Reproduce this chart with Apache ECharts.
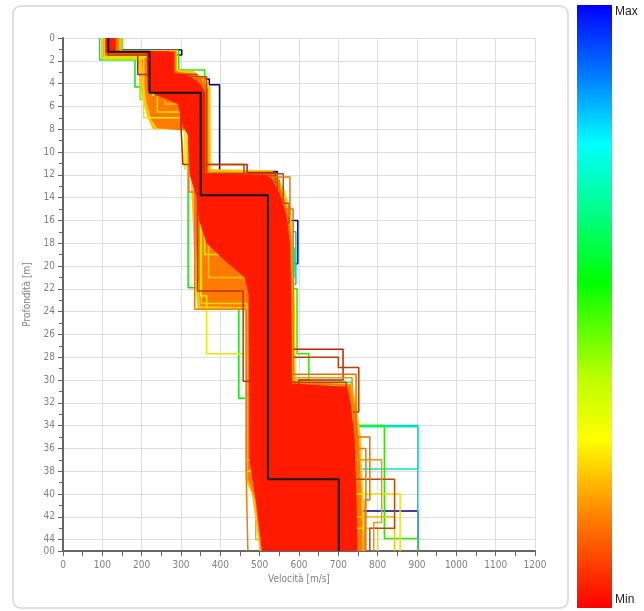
<!DOCTYPE html>
<html>
<head>
<meta charset="utf-8">
<script src="https://cdn.jsdelivr.net/npm/echarts@6/dist/echarts.min.js"></script>
<style>
  html, body { margin: 0; padding: 0; background: #fff; }
  #chart { width: 644px; height: 611px; }
</style>
</head>
<body>
<div id="chart"></div>
<script>
// Depth range and axis
const maxDepth = 45;

// Best model (black)
const bestVs = [115, 220, 350, 521, 701];
const bestBottom = [1.2, 4.8, 13.8, 38.7, 45];

// Single profiles that stand out of the cloud: Vs per layer [m/s], layer bottom [m], misfit (0 = Min, 1 = Max)
const profileVs = [
  [122, 302, 270, 372, 398, 545, 597, 578, 700, 902],
  [118, 275, 350, 545, 592, 560, 902],
  [125, 285, 355, 540, 588, 575, 735, 902, 750],
  [93, 183, 318, 447, 505, 600],
  [150, 294, 360, 540, 595, 625, 560, 817, 902],
  [100, 196, 300, 335, 470, 490, 560],
  [105, 205, 310, 350, 365, 466, 600],
  [115, 240, 330, 360, 480, 700, 857],
  [128, 260, 345, 370, 475, 720, 843],
  [110, 228, 315, 352, 467, 710, 800],
  [112, 190, 300, 305, 468, 540, 712, 600],
  [118, 250, 340, 460, 545, 700, 752, 640],
  [125, 270, 365, 560, 575, 560, 720, 843, 780],
  [108, 230, 320, 335, 466, 470],
  [120, 265, 350, 550, 585, 745, 780, 768],
  [116, 255, 345, 540, 583, 735, 810, 790],
  [114, 235, 330, 342, 458, 520, 700],
  [120, 262, 360, 577, 565, 700, 770]
];
const profileBottom = [
  [1.05, 1.5, 3.6, 4.1, 11.7, 16.0, 19.8, 30.4, 41.5, 45],
  [1.3, 4.0, 12.0, 17.0, 21.6, 34.0, 45],
  [1.2, 3.8, 11.9, 18.4, 21.0, 30.2, 34.1, 37.8, 45],
  [1.9, 4.3, 21.9, 31.6, 39.0, 45],
  [1.1, 2.8, 11.8, 22.0, 27.7, 30.0, 34.0, 43.9, 45],
  [1.9, 5.4, 7.8, 12.0, 39.0, 44.0, 45],
  [1.8, 7.0, 11.5, 22.6, 27.7, 38.0, 45],
  [1.6, 6.5, 12.5, 19.0, 30.5, 40.0, 45],
  [1.5, 5.8, 12.3, 21.0, 30.8, 42.0, 45],
  [1.7, 5.0, 11.0, 23.3, 37.0, 43.0, 45],
  [1.3, 3.2, 7.8, 11.1, 11.8, 27.3, 30.0, 45],
  [1.4, 3.2, 11.1, 12.1, 28.0, 28.9, 32.8, 45],
  [1.2, 3.4, 11.9, 14.5, 16.2, 30.2, 38.7, 43.0, 45],
  [1.5, 4.6, 13.5, 23.8, 38.7, 45],
  [1.3, 3.6, 12.5, 15.0, 29.5, 35.0, 40.5, 45],
  [1.4, 4.2, 12.8, 17.5, 29.8, 37.0, 42.5, 45],
  [1.5, 5.0, 12.5, 22.2, 30.1, 38.7, 45],
  [1.3, 3.5, 12.2, 15.6, 30.4, 36.0, 45]
];
const profileMisfit = [1.0, 0.8, 0.72, 0.55, 0.5, 0.42, 0.3, 0.27, 0.24, 0.26, 0.06, 0.1, 0.12, 0.16, 0.14, 0.19, 0.09, 0.15];

// Dense cloud of the low-misfit models, outlines as [Vs, depth]: outer, middle, core
const cloudOuter = [
  [97, 0], [97, 1.8], [190, 1.8], [195, 4], [203, 5.5], [215, 7], [228, 8], [322, 8], [324, 12], [327, 14],
  [332, 18], [338, 22], [342, 23.8], [462, 23.8], [464, 38.7], [480, 40], [500, 45],
  [768, 45], [763, 40], [757, 35], [746, 32], [735, 30.3], [592, 30], [590, 24], [586, 18], [579, 15.5],
  [565, 13.5], [545, 12], [530, 11.6], [376, 11.5], [375, 4.3], [360, 3.5], [332, 2.9], [291, 2.8],
  [291, 1.05], [148, 1.05], [148, 0]
];
const cloudMid = [
  [102, 0], [102, 1.6], [200, 1.6], [205, 4], [212, 5.5], [225, 7.2], [240, 7.9], [328, 8.2], [330, 12],
  [334, 14], [338, 18], [345, 22], [350, 23.5], [468, 23.6], [470, 38.7], [488, 40.5], [503, 45],
  [762, 45], [758, 40], [752, 35], [741, 32], [730, 30.4], [588, 30.1], [586, 24], [582, 18], [574, 15.5],
  [558, 13.5], [538, 12.1], [525, 11.8], [370, 11.7], [369, 4.5], [354, 3.7], [325, 3.1], [288, 2.95],
  [288, 1.12], [142, 1.12], [142, 0]
];
const cloudCore = [
  [108, 0], [108, 1.35], [212, 1.35], [216, 4.6], [250, 5.2], [292, 5.8], [305, 7.8], [318, 8.5], [322, 12],
  [340, 14], [346, 16], [365, 18], [410, 19.5], [462, 21], [472, 22.5], [474, 37], [492, 41], [506, 45],
  [748, 45], [746, 40], [741, 35], [731, 32], [722, 30.6], [582, 30.3], [581, 24], [577, 18], [568, 15.5],
  [550, 13.6], [530, 12.3], [515, 12.0], [362, 11.9], [362, 4.8], [348, 4.0], [320, 3.3], [283, 3.1],
  [283, 1.2], [134, 1.2], [134, 0]
];

// Colour scale, misfit 0 (Min) -> 1 (Max)
const colorStops = [
  [0, [255, 0, 0]], [0.15, [255, 128, 0]], [0.28, [255, 255, 0]], [0.38, [190, 255, 0]],
  [0.54, [0, 255, 0]], [0.65, [0, 255, 128]], [0.77, [0, 255, 255]], [0.88, [0, 128, 255]], [1, [0, 0, 255]]
];

function colorAt(t, shade) {
  let i = 0;
  while (i < colorStops.length - 2 && t > colorStops[i + 1][0]) i++;
  const [t0, c0] = colorStops[i];
  const [t1, c1] = colorStops[i + 1];
  const f = Math.min(1, Math.max(0, (t - t0) / (t1 - t0)));
  const c = c0.map((v, k) => Math.round((v + (c1[k] - v) * f) * shade));
  return 'rgb(' + c.join(',') + ')';
}

function stepPoints(vs, bottoms) {
  const pts = [];
  let top = 0;
  vs.forEach((v, i) => {
    pts.push([v, top], [v, bottoms[i]]);
    top = bottoms[i];
  });
  return pts;
}

function profileSeries(i, z) {
  const t = profileMisfit[i];
  // outer lines of the best models look brownish
  const shade = t < 0.13 ? 0.72 : (t > 0.9 ? 0.55 : 0.92);
  return {
    type: 'line',
    z: z,
    data: stepPoints(profileVs[i], profileBottom[i]),
    symbol: 'none',
    silent: true,
    lineStyle: { width: 1.5, color: colorAt(t, shade) }
  };
}

function cloudSeries(outline, color, z) {
  return {
    type: 'custom',
    z: z,
    silent: true,
    clip: true,
    data: [outline[0]],
    renderItem: (params, api) => ({
      type: 'polygon',
      shape: { points: outline.map(p => api.coord(p)) },
      style: { fill: color }
    })
  };
}

const series = [];
// worst models first, below the cloud
profileMisfit.forEach((t, i) => { if (t >= 0.4) series.push(profileSeries(i, 2)); });
series.push(cloudSeries(cloudOuter, '#ffc400', 3));
series.push(cloudSeries(cloudMid, '#ff7a00', 4));
profileMisfit.forEach((t, i) => { if (t < 0.4) series.push(profileSeries(i, 5)); });
series.push(cloudSeries(cloudCore, '#ff1a00', 6));
series.push({
  type: 'line',
  z: 7,
  data: stepPoints(bestVs, bestBottom),
  symbol: 'none',
  silent: true,
  lineStyle: { width: 2, color: '#151515' }
});

const labelFont = 'Liberation Sans Narrow, DejaVu Sans Condensed, sans-serif';

const chart = echarts.init(document.getElementById('chart'));
chart.setOption({
  animation: false,
  backgroundColor: '#fff',
  grid: { left: 63, right: 109, top: 38, bottom: 60 },
  xAxis: {
    type: 'value',
    min: 0,
    max: 1200,
    interval: 100,
    name: 'Velocità [m/s]',
    nameLocation: 'middle',
    nameGap: 21,
    nameTextStyle: { fontSize: 10, color: '#808080', fontFamily: labelFont },
    axisLine: { onZero: false, lineStyle: { color: '#666', width: 2 } },
    axisTick: { length: 5, lineStyle: { color: '#666' } },
    minorTick: { show: true, splitNumber: 2, length: 5, lineStyle: { color: '#666' } },
    axisLabel: { fontSize: 10, color: '#808080', margin: 9, fontFamily: labelFont, formatter: v => String(v) },
    splitLine: { lineStyle: { color: '#dedede' } }
  },
  yAxis: {
    type: 'value',
    inverse: true,
    min: 0,
    max: maxDepth,
    interval: 2,
    name: 'Profondità [m]',
    nameLocation: 'middle',
    nameGap: 17,
    nameTextStyle: { fontSize: 10, color: '#808080', fontFamily: labelFont },
    axisLine: { onZero: false, lineStyle: { color: '#666', width: 2 } },
    axisTick: { length: 5, lineStyle: { color: '#666' } },
    minorTick: { show: true, splitNumber: 2, length: 4, lineStyle: { color: '#666' } },
    axisLabel: {
      fontSize: 10, color: '#808080', margin: 8, fontFamily: labelFont,
      formatter: v => (v === maxDepth ? '00' : String(v))
    },
    splitLine: { lineStyle: { color: '#dedede' } }
  },
  graphic: [
    {
      type: 'rect',
      z: -10,
      shape: { x: 13, y: 6, width: 555, height: 602, r: 8 },
      style: { fill: 'none', stroke: '#d6d6d6', lineWidth: 1.5 }
    },
    {
      type: 'rect',
      shape: { x: 577, y: 5, width: 35, height: 603 },
      style: {
        fill: new echarts.graphic.LinearGradient(0, 0, 0, 1,
          colorStops.map(s => ({ offset: 1 - s[0], color: 'rgb(' + s[1].join(',') + ')' })).reverse())
      }
    },
    {
      type: 'text',
      left: 615, top: 6,
      style: { text: 'Max', fontSize: 12, fill: '#222', fontFamily: 'Liberation Sans, Arial, sans-serif' }
    },
    {
      type: 'text',
      left: 615, top: 594,
      style: { text: 'Min', fontSize: 12, fill: '#222', fontFamily: 'Liberation Sans, Arial, sans-serif' }
    }
  ],
  series: series
});
</script>
</body>
</html>
